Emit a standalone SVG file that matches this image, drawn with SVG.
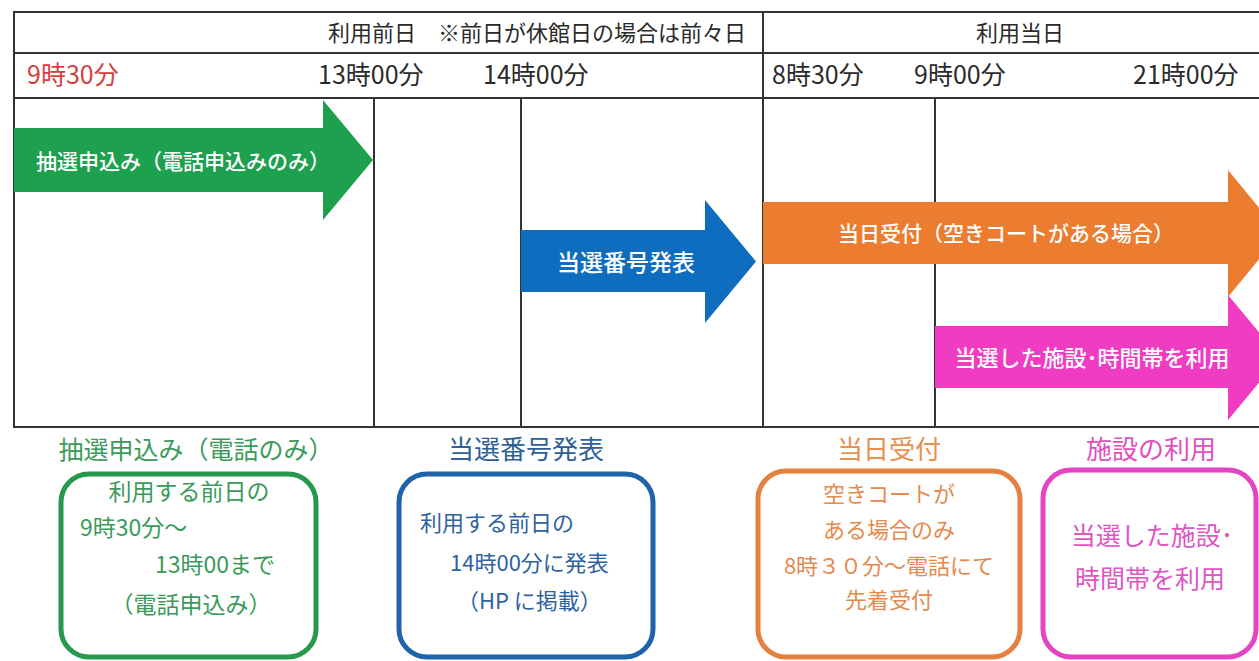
<svg xmlns="http://www.w3.org/2000/svg" width="1259" height="661" viewBox="0 0 1259 661">
<style>
text{font-family:"Noto Sans CJK JP","Noto Sans CJK SC",sans-serif;}
.grid{stroke:#333;stroke-width:2;fill:none;}
.hd{font-size:22px;fill:#2b2b2b;}
.tm{font-size:25px;fill:#2b2b2b;}
.arr{font-size:21px;fill:#ffffff;font-weight:500;}
.ttl{font-size:25px;}
.box{fill:#ffffff;stroke-width:5;}
.bt{font-size:22px;}
</style>
<rect x="0" y="0" width="1259" height="661" fill="#ffffff"/>
<g id="grid" class="grid">
<line x1="14" y1="12" x2="1259" y2="12"/>
<line x1="14" y1="53" x2="1259" y2="53"/>
<line x1="14" y1="98" x2="1259" y2="98"/>
<line x1="14" y1="427" x2="1259" y2="427"/>
<line x1="14" y1="11" x2="14" y2="428"/>
<line x1="763" y1="11" x2="763" y2="428"/>
<line x1="374" y1="98" x2="374" y2="428"/>
<line x1="521" y1="98" x2="521" y2="428"/>
<line x1="935" y1="98" x2="935" y2="428"/>
</g>
<g id="header">
<text class="hd" x="328" y="41">利用前日　※前日が休館日の場合は前々日</text>
<text class="hd" x="1020" y="41" text-anchor="middle">利用当日</text>
<text class="tm" x="27" y="84" style="fill:#d4403f">9時30分</text>
<text class="tm" x="318" y="84">13時00分</text>
<text class="tm" x="483" y="84">14時00分</text>
<text class="tm" x="772" y="84">8時30分</text>
<text class="tm" x="914" y="84">9時00分</text>
<text class="tm" x="1133" y="84">21時00分</text>
</g>
<g id="arrow-lottery">
<path d="M14,128 H323 V100 L373,160 L323,220 V192 H14 Z" fill="#1ea14f"/>
<text class="arr" x="36" y="169">抽選申込み（電話申込みのみ）</text>
</g>
<g id="arrow-announce">
<path d="M521,230 H705 V200 L756,261.5 L705,323 V292 H521 Z" fill="#0f6dbf"/>
<text class="arr" x="626" y="271" text-anchor="middle" style="font-size:23px">当選番号発表</text>
</g>
<g id="arrow-sameday">
<path d="M763,202 H1228 V170 L1280,233.5 L1228,297 V264 H763 Z" fill="#ec7c30"/>
<text class="arr" x="1006" y="241" text-anchor="middle">当日受付（空きコートがある場合）</text>
</g>
<g id="arrow-use">
<path d="M935,326 H1228 V295 L1280,357.5 L1228,420 V388 H935 Z" fill="#f03cc3"/>
<text class="arr" x="1092" y="366" text-anchor="middle" style="font-size:22px">当選した施設･時間帯を利用</text>
</g>
<g id="box-lottery">
<text class="ttl" x="196" y="459" text-anchor="middle" fill="#3a9a5a" style="font-size:25px">抽選申込み（電話のみ）</text>
<rect class="box" x="61" y="474" width="255" height="183" rx="28" stroke="#27994f"/>
<g class="bt" fill="#3a9a5a" style="font-size:23px">
<text x="189" y="500" text-anchor="middle">利用する前日の</text>
<text x="80" y="536">9時30分～</text>
<text x="155" y="573">13時00まで</text>
<text x="191" y="613" text-anchor="middle">（電話申込み）</text>
</g>
</g>
<g id="box-announce">
<text class="ttl" x="526" y="459" text-anchor="middle" fill="#2f5f94" style="font-size:26px">当選番号発表</text>
<rect class="box" x="399" y="474" width="254" height="183" rx="28" stroke="#1f63a8"/>
<g class="bt" fill="#2f62a0">
<text x="420" y="531">利用する前日の</text>
<text x="450" y="571">14時00分に発表</text>
<text x="457" y="609">（HP に掲載）</text>
</g>
</g>
<g id="box-sameday">
<text class="ttl" x="889" y="459" text-anchor="middle" fill="#e8904f" style="font-size:26px">当日受付</text>
<rect class="box" x="758" y="471" width="262" height="186" rx="28" stroke="#e5813f"/>
<g class="bt" fill="#e58a4e">
<text x="889" y="502" text-anchor="middle">空きコートが</text>
<text x="889" y="538" text-anchor="middle">ある場合のみ</text>
<text x="889" y="574" text-anchor="middle">8時３０分～電話にて</text>
<text x="889" y="608" text-anchor="middle">先着受付</text>
</g>
</g>
<g id="box-use">
<text class="ttl" x="1151" y="459" text-anchor="middle" fill="#e050c0" style="font-size:26px">施設の利用</text>
<rect class="box" x="1043" y="470" width="213" height="187" rx="28" stroke="#e444c4"/>
<g class="bt" fill="#e055c4" style="font-size:25px">
<text x="1152" y="545" text-anchor="middle">当選した施設･</text>
<text x="1150" y="588" text-anchor="middle">時間帯を利用</text>
</g>
</g>
</svg>
